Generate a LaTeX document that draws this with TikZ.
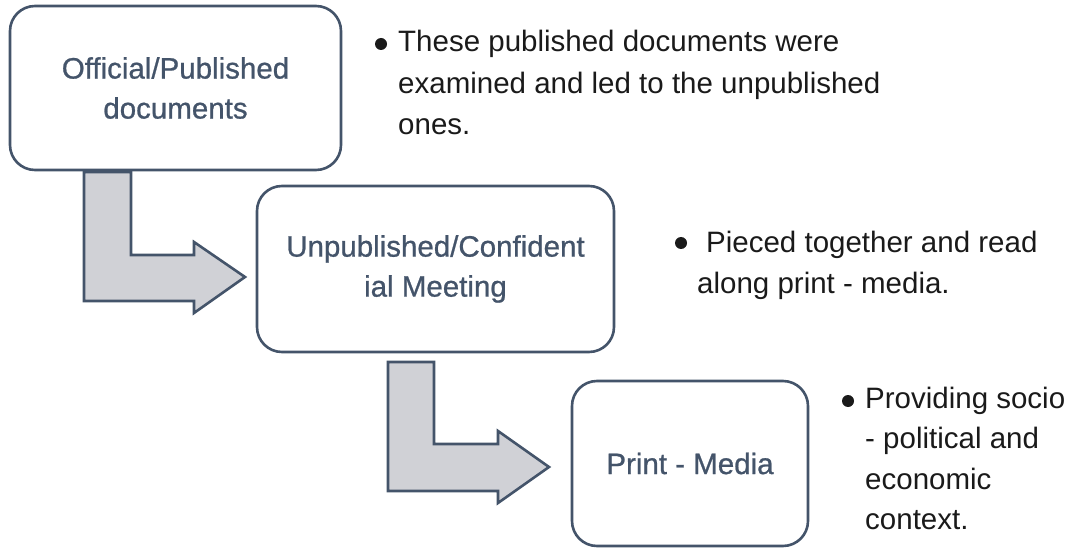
\documentclass[tikz,border=0pt]{standalone}
\usepackage{fontspec}
\setmainfont{Liberation Sans}
\newfontfamily\stagefont[FakeBold=0.8]{Liberation Sans}
\definecolor{slate}{HTML}{44546A}
\definecolor{arrowfill}{HTML}{D0D1D6}
\definecolor{ink}{HTML}{1A1A1A}
\tikzset{
  stagebox/.style={draw=slate, line width=2.6pt, rounded corners=25pt, fill=white,
    text=slate, align=center, inner sep=0pt,
    font=\stagefont\fontsize{29.5}{40}\selectfont},
  bentarrow/.style={draw=slate, fill=arrowfill, line width=2.6pt, line join=miter},
  noteline/.style={anchor=base west, inner sep=0pt, text=ink,
    font=\fontsize{29.5}{40}\selectfont},
  bulletdot/.style={circle, fill=ink, inner sep=0pt, minimum size=12pt}
}
\begin{document}
\begin{tikzpicture}[x=1pt, y=-1pt]
  \useasboundingbox (0,0) rectangle (1071,548);

  % bent arrows (drawn first, boxes sit on top)
  \coordinate (a1) at (84,172);
  \draw[bentarrow] (a1) -- ++(47,0) -- ++(0,83) -- ++(63,0) -- ++(0,-13)
    -- ++(51,35) -- ++(-51,36) -- ++(0,-12) -- ++(-110,0) -- cycle;
  \coordinate (a2) at (388,362);
  \draw[bentarrow] (a2) -- ++(46,0) -- ++(0,82) -- ++(64,0) -- ++(0,-13)
    -- ++(51,36) -- ++(-51,36) -- ++(0,-12) -- ++(-110,0) -- cycle;

  % stages
  \node[stagebox, minimum width=331pt, minimum height=164pt] (b1) at (175.5,88)
    {Official/Published\\documents};
  \node[stagebox, minimum width=357pt, minimum height=166pt] (b2) at (435.5,269)
    {Unpublished/Confident\\ial Meeting};
  \node[stagebox, minimum width=236pt, minimum height=165pt] (b3) at (690,463.5)
    {Print - Media};

  % notes
  \node[bulletdot] (d1) at (381,44) {};
  \node[noteline] (n11) at (398,52) {These published documents were};
  \node[noteline] (n12) at (398,94) {examined and led to the unpublished};
  \node[noteline] (n13) at (398,135) {ones.};

  \node[bulletdot] (d2) at (681,243) {};
  \node[noteline] (n21) at (706,253) {Pieced together and read};
  \node[noteline] (n22) at (697,293) {along print - media.};

  \node[bulletdot] (d3) at (848,401) {};
  \node[noteline] (n31) at (865,408) {Providing socio};
  \node[noteline] (n32) at (865,448) {- political and};
  \node[noteline] (n33) at (865,489) {economic};
  \node[noteline] (n34) at (865,529) {context.};
\end{tikzpicture}
\end{document}
